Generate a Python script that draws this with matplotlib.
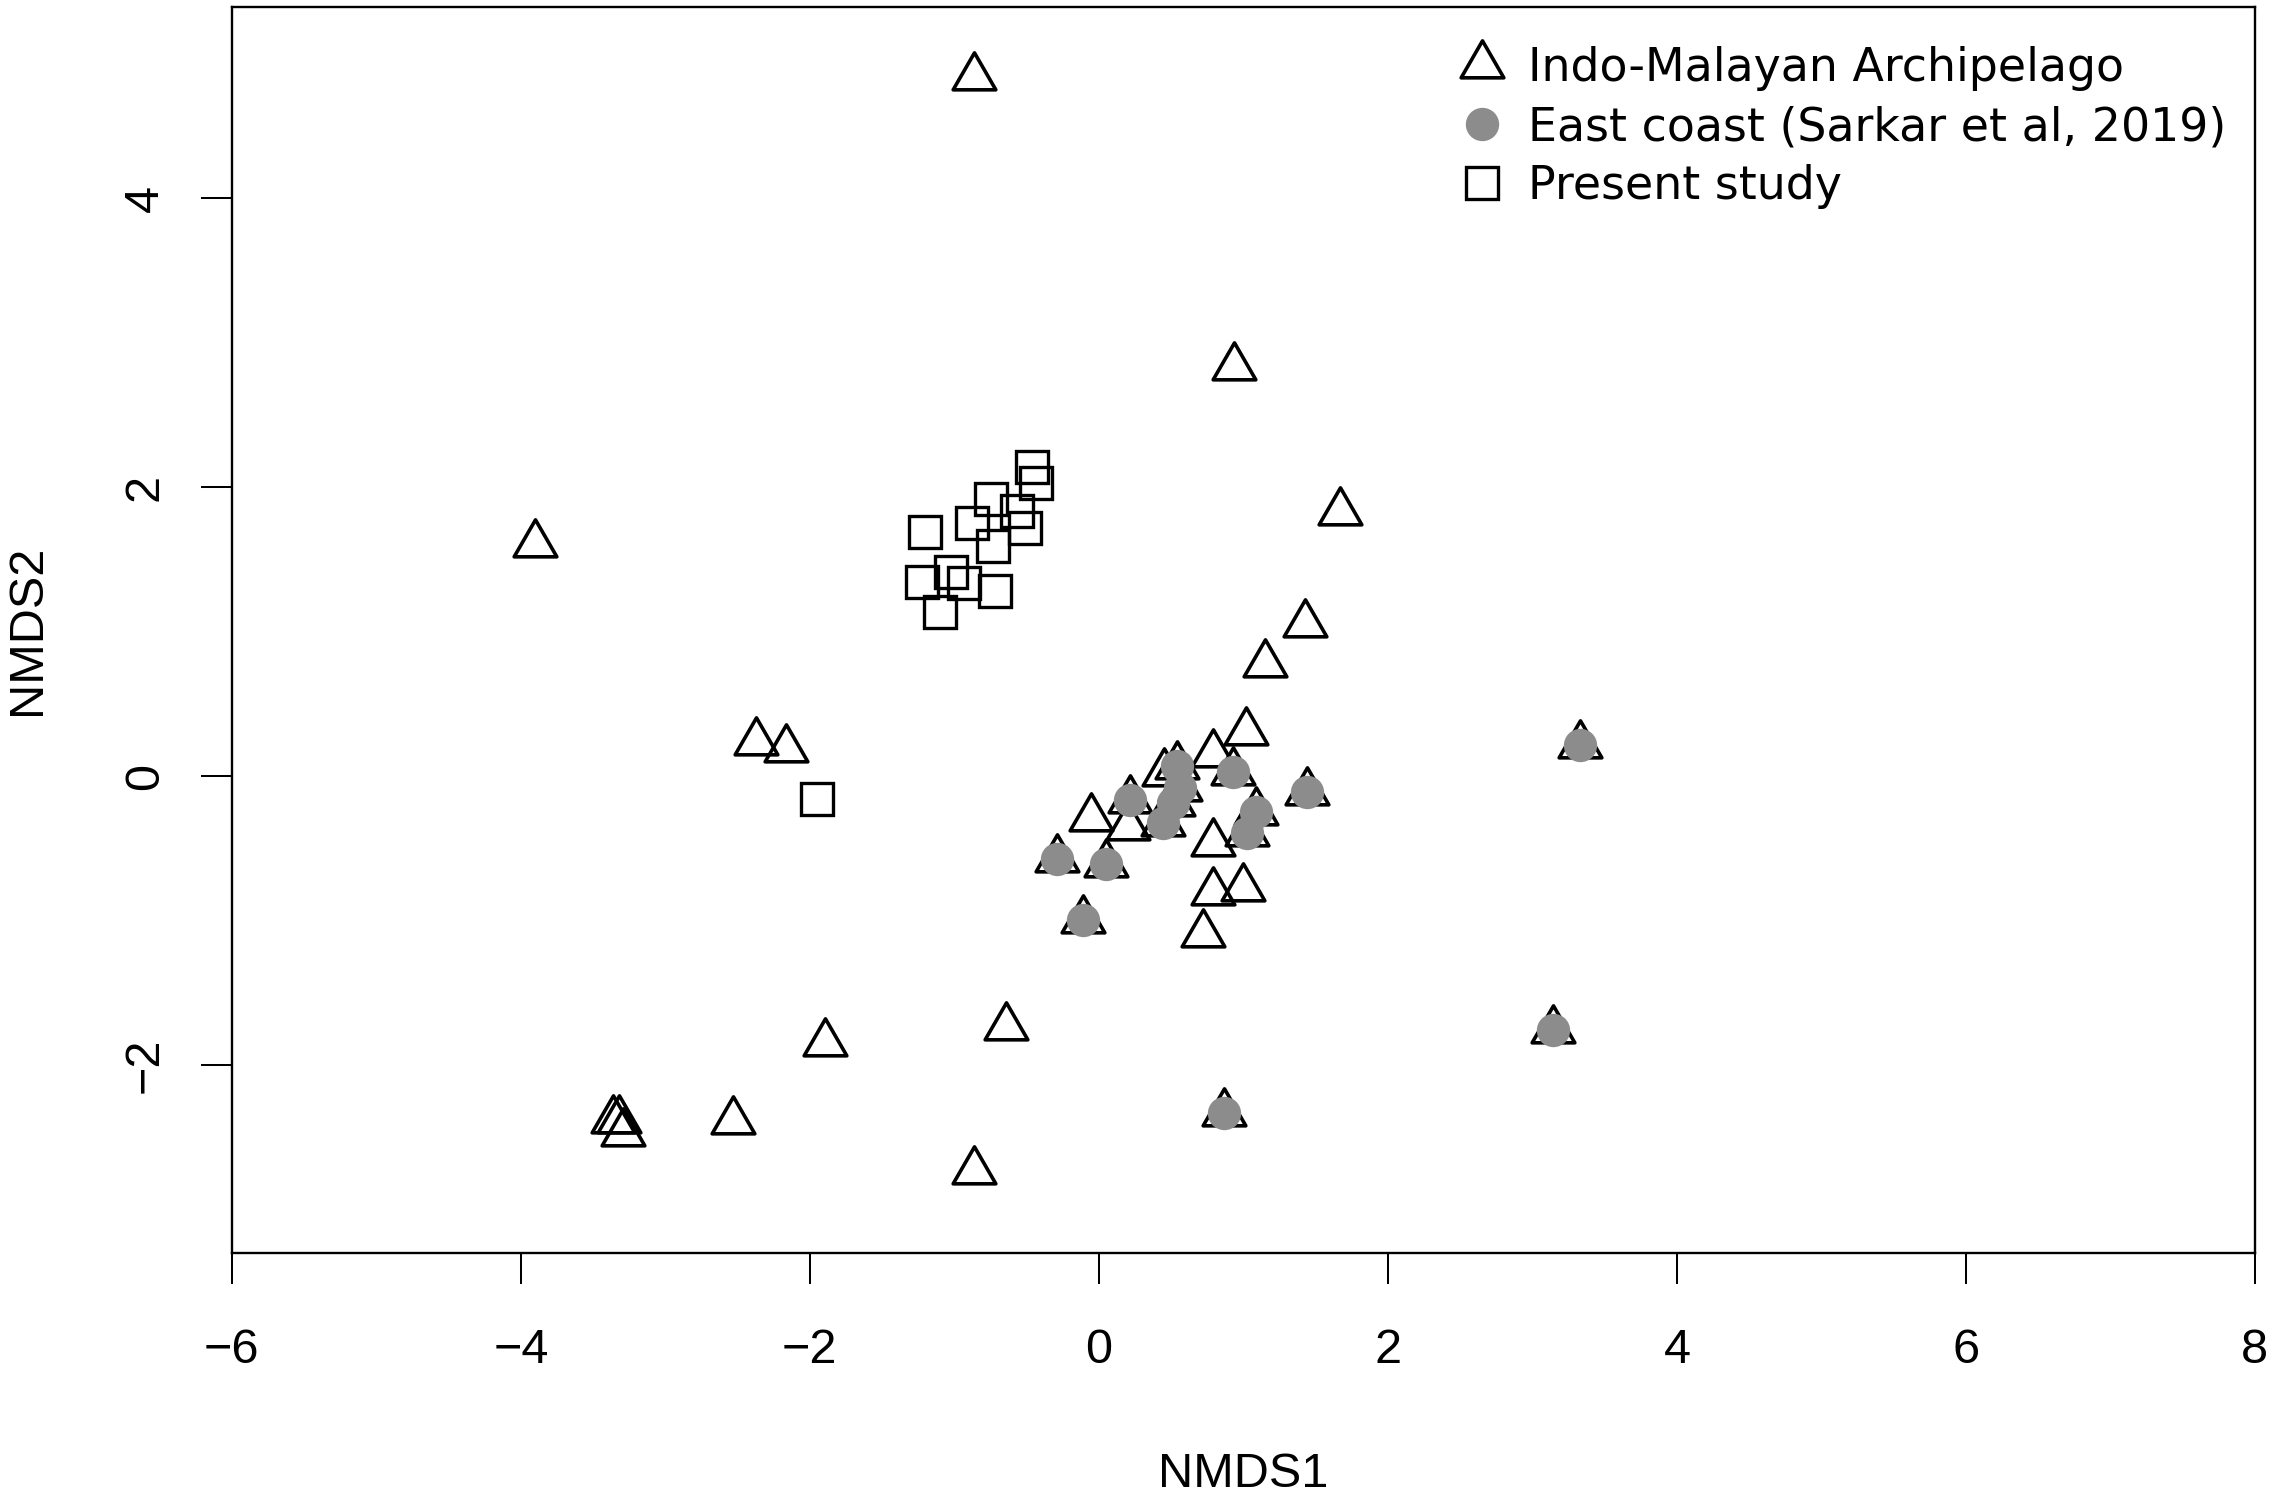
import matplotlib.pyplot as plt
from matplotlib.path import Path

# Indo-Malayan Archipelago sites
ima_x = [-0.863, 0.938, -3.90, 1.672, 1.430, 1.149, -2.375, -2.168, 1.018, 0.792,
         0.450, 0.542, 0.926, 0.561, 0.515, 0.446, 0.215, -0.051, 0.203, 1.087,
         1.027, 1.438, 3.331, 0.787, -0.289, 0.048, 0.792, 0.995, -0.109, 0.723,
         -1.898, -0.641, 3.14, -2.53, -3.36, -3.32, -3.29, 0.867, -0.863]
ima_y = [4.84, 2.83, 1.605, 1.824, 1.05, 0.778, 0.233, 0.189, 0.307, 0.152,
         0.023, 0.069, 0.030, -0.085, -0.189, -0.328, -0.166, -0.293, -0.355, -0.247,
         -0.397, -0.108, 0.215, -0.466, -0.577, -0.609, -0.801, -0.773, -0.993, -1.090,
         -1.847, -1.736, -1.756, -2.39, -2.38, -2.38, -2.47, -2.33, -2.732]

# East coast (Sarkar et al, 2019)
east_x = [-0.289, 0.048, -0.109, 0.215, 0.542, 0.561, 0.515, 0.446, 0.926, 1.087,
          1.027, 1.438, 3.331, 3.14, 0.867]
east_y = [-0.577, -0.609, -0.993, -0.166, 0.069, -0.085, -0.189, -0.328, 0.030, -0.247,
          -0.397, -0.108, 0.215, -1.756, -2.33]

# Present study
ps_x = [-0.466, -0.436, -0.748, -0.566, -0.508, -0.877, -1.200, -0.732, -1.025, -1.221,
        -0.935, -0.716, -1.096, -1.951]
ps_y = [2.142, 2.027, 1.916, 1.831, 1.720, 1.754, 1.687, 1.595, 1.415, 1.341,
        1.334, 1.283, 1.138, -0.159]

xticks = [-6, -4, -2, 0, 2, 4, 6, 8]
yticks = [-2, 0, 2, 4]

# R style triangle (pch 2), centred on its centroid
tri = Path([(0, 1), (-0.866, -0.5), (0.866, -0.5), (0, 1)], closed=True)

axfont = 'Liberation Sans'

fig = plt.figure(figsize=(22.77, 14.93), dpi=100)
ax = fig.add_axes([0.1018, 0.1608, 0.8885, 0.8343])

ax.plot(ima_x, ima_y, linestyle='none', marker=tri, markersize=35.5,
        markerfacecolor='none', markeredgecolor='black', markeredgewidth=2.6,
        label='Indo-Malayan Archipelago', zorder=2)
ax.plot(east_x, east_y, linestyle='none', marker='o', markersize=24,
        markerfacecolor='#8c8c8c', markeredgecolor='#8c8c8c', markeredgewidth=0,
        label='East coast (Sarkar et al, 2019)', zorder=3)
ax.plot(ps_x, ps_y, linestyle='none', marker='s', markersize=23.5,
        markerfacecolor='none', markeredgecolor='black', markeredgewidth=2.4,
        label='Present study', zorder=2)

ax.set_xlim(-6, 8)
ax.set_ylim(-3.30, 5.32)
ax.set_xticks(xticks)
ax.set_yticks(yticks)

for s in ax.spines.values():
    s.set_linewidth(1.7)
ax.tick_params(direction='out', length=22, width=1.45, labelsize=35)
ax.tick_params(axis='x', pad=32)
ax.tick_params(axis='y', pad=24, labelrotation=90)
for lab in ax.get_xticklabels() + ax.get_yticklabels():
    lab.set_fontfamily(axfont)
for lab in ax.get_yticklabels():
    lab.set_va('center')

ax.set_xlabel('NMDS1', fontsize=35, fontfamily=axfont, va='center')
ax.xaxis.set_label_coords(0.5, -0.1776)
ax.set_ylabel('NMDS2', fontsize=35, fontfamily=axfont, va='center')
ax.yaxis.set_label_coords(-0.101, 0.5)

ax.legend(loc='upper right', bbox_to_anchor=(1.005, 1.0), frameon=False,
          prop={'family': 'DejaVu Sans', 'size': 33},
          handlelength=1.2, handletextpad=0.4, labelspacing=0.3,
          borderaxespad=0.55, borderpad=0.3)

fig.savefig('out.png', dpi=100)
